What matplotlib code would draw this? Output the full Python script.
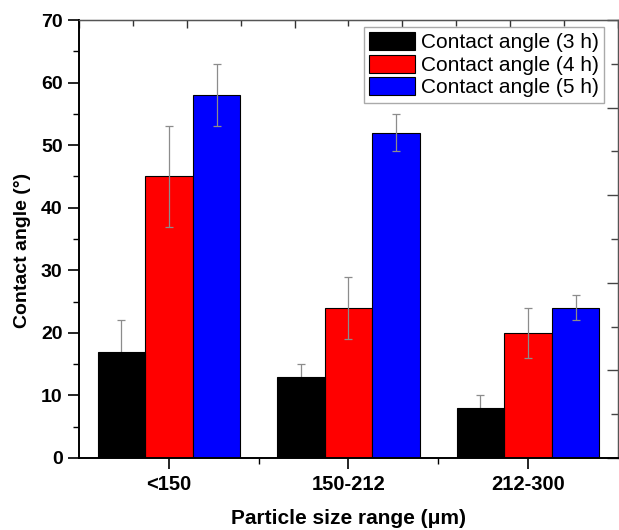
import numpy as np
import matplotlib
matplotlib.use("Agg")
import matplotlib.pyplot as plt
from matplotlib.ticker import FixedLocator

plt.rcParams['font.family'] = ['Liberation Sans', 'DejaVu Sans']

# data
size_ranges = ["<150", "150-212", "212-300"]
series_names = ["Contact angle (3 h)", "Contact angle (4 h)", "Contact angle (5 h)"]
angle_3h = [17, 13, 8]
angle_4h = [45, 24, 20]
angle_5h = [58, 52, 24]
err_3h = [5, 2, 2]
err_4h = [8, 5, 4]
err_5h = [5, 3, 2]

values = [angle_3h, angle_4h, angle_5h]
errors = [err_3h, err_4h, err_5h]
colors = ["black", "#ff0000", "#0000ff"]

fig = plt.figure(figsize=(6.19, 5.30), dpi=100)
ax = fig.add_axes([0.128, 0.136, 0.870, 0.826])

x = np.arange(1, len(size_ranges) + 1)
w = 0.265
for i in range(3):
    # the lower half of the grey bars disappears into the black bars
    bar_z = 3 if i == 0 else 1
    ax.bar(x + (i - 1) * w, values[i], width=w, color=colors[i],
           edgecolor="black", linewidth=0.8, label=series_names[i],
           zorder=bar_z, yerr=errors[i], ecolor="#8c8c8c",
           error_kw=dict(elinewidth=0.9, capsize=3, capthick=0.9, zorder=2))

ax.set_xlim(0.5, 3.5)
ax.set_ylim(0, 70)
ax.set_xticks(x)
ax.set_xticklabels(size_ranges)
ax.xaxis.set_minor_locator(FixedLocator([1.5, 2.5]))
ax.set_yticks(np.arange(0, 71, 10))
ax.yaxis.set_minor_locator(FixedLocator(np.arange(5, 70, 10)))

ax.tick_params(axis="both", which="major", direction="out", length=8,
               width=1.2, labelsize=14, pad=4)
ax.tick_params(axis="both", which="minor", direction="out", length=4, width=1.0)
for lab in ax.get_xticklabels() + ax.get_yticklabels():
    lab.set_fontweight("bold")
ax.tick_params(axis="x", which="major", labelsize=14.5, pad=4)

for side in ["left", "bottom"]:
    ax.spines[side].set_linewidth(1.4)
for side in ["top", "right"]:
    ax.spines[side].set_linewidth(1.0)
    ax.spines[side].set_color("#555555")

# top and right axes carry their own inward ticks (10 divisions)
top = ax.secondary_xaxis("top")
top.set_xticks(np.linspace(0.5, 3.5, 6))
top.xaxis.set_minor_locator(FixedLocator(np.linspace(0.8, 3.2, 5)))
top.tick_params(which="major", direction="in", length=6, width=1.0,
                labeltop=False, color="#333333")
top.tick_params(which="minor", direction="in", length=4, width=1.0, color="#333333")
top.spines["top"].set_color("#333333")

right = ax.secondary_yaxis("right")
right.set_yticks(np.arange(0, 71, 14))
right.yaxis.set_minor_locator(FixedLocator(np.arange(7, 70, 14)))
right.tick_params(which="major", direction="in", length=8, width=1.0,
                  labelright=False, color="#444444")
right.tick_params(which="minor", direction="in", length=5, width=1.0, color="#444444")
right.spines["right"].set_color("#777777")

ax.set_xlabel("Particle size range (\u03bcm)", fontsize=15, fontweight="bold")
ax.xaxis.set_label_coords(0.5, -0.116)
ax.set_ylabel("Contact angle (\u00b0)", fontsize=14, fontweight="bold")
ax.yaxis.set_label_coords(-0.089, 0.473)

leg = ax.legend(loc="upper right", bbox_to_anchor=(0.975, 0.985), borderaxespad=0,
                fontsize=15, fancybox=False, edgecolor="#aaaaaa", framealpha=1,
                handlelength=2.2, handleheight=0.95, labelspacing=0.12,
                borderpad=0.25, handletextpad=0.3)
leg.get_frame().set_linewidth(1.0)
leg.set_zorder(5)

fig.savefig("out.png", dpi=100)
